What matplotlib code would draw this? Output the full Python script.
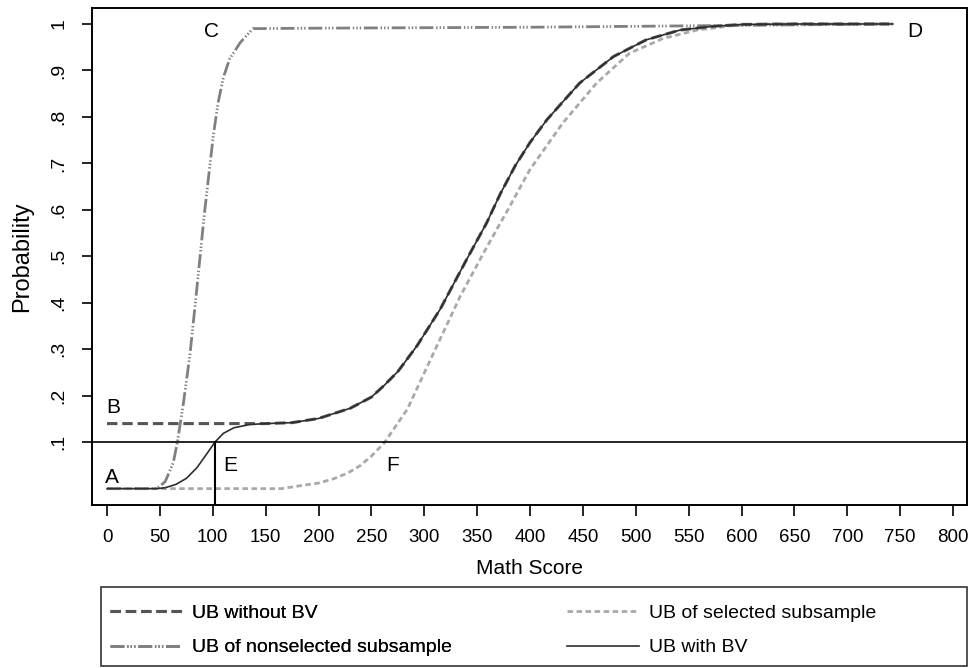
import matplotlib
matplotlib.use("Agg")
import matplotlib.pyplot as plt
from matplotlib.lines import Line2D
from matplotlib.patches import Rectangle

plt.rcParams['lines.scale_dashes'] = False

REG = ['Liberation Sans', 'DejaVu Sans']

# ---------------- data ----------------
# UB with BV (solid)
bv_x = [0, 47, 55, 65, 75, 85, 95, 102, 110, 120, 135, 150, 175, 200, 230, 250, 262,
        275, 293, 315, 340, 359, 372, 386, 400, 416, 432, 447, 479, 510, 542, 573, 600, 650, 743]
bv_y = [0.0, 0.0, 0.002, 0.009, 0.022, 0.045, 0.077, 0.10, 0.119, 0.131, 0.138, 0.140, 0.142,
        0.151, 0.173, 0.197, 0.222, 0.252, 0.307, 0.386, 0.493, 0.572, 0.635, 0.695, 0.745,
        0.794, 0.835, 0.873, 0.930, 0.966, 0.987, 0.995, 0.999, 1.0, 1.0]

# UB without BV (dark dashed)
nobv_x = [0, 150, 175, 200, 230, 250, 262, 275, 293, 315, 340, 359, 372, 386, 400, 416,
          432, 447, 479, 510, 542, 573, 600, 650, 743]
nobv_y = [0.14, 0.14, 0.142, 0.151, 0.173, 0.197, 0.222, 0.252, 0.307, 0.386, 0.493, 0.572,
          0.635, 0.695, 0.745, 0.794, 0.835, 0.873, 0.930, 0.966, 0.987, 0.995, 0.999, 1.0, 1.0]

# UB of selected subsample (light dashed)
sel_x = [0, 165, 182, 200, 214, 228, 239, 250, 262, 284, 309, 334, 356, 372, 379, 400, 431,
         463, 494, 526, 558, 590, 620, 743]
sel_y = [0.0, 0.0, 0.006, 0.012, 0.021, 0.034, 0.049, 0.07, 0.098, 0.171, 0.293, 0.414, 0.507,
         0.572, 0.600, 0.687, 0.787, 0.873, 0.937, 0.969, 0.987, 0.996, 1.0, 1.0]

# UB of nonselected subsample (dash-dot-dot)
non_x = [0, 47, 55, 62.7, 66.5, 72, 78.5, 84, 88, 92, 96, 100.5, 105, 110, 116, 126, 138,
         200, 400, 600, 743]
non_y = [0.0, 0.0, 0.015, 0.056, 0.10, 0.18, 0.29, 0.41, 0.50, 0.59, 0.67, 0.76, 0.83, 0.885,
         0.925, 0.96, 0.99, 0.991, 0.993, 0.997, 1.0]

threshold = 0.1
e_x = 102

labels = ['A', 'B', 'C', 'D', 'E', 'F']
label_x = [5, 6, 99, 764, 117, 270]
label_y = [0.025, 0.175, 0.983, 0.983, 0.05, 0.05]

xticks = list(range(0, 801, 50))
yticks = [0.1, 0.2, 0.3, 0.4, 0.5, 0.6, 0.7, 0.8, 0.9, 1.0]
ytick_labels = ['.1', '.2', '.3', '.4', '.5', '.6', '.7', '.8', '.9', '1']

series_names = ['UB without BV', 'UB of nonselected subsample',
                'UB of selected subsample', 'UB with BV']

# ---------------- styles ----------------
st_nobv = dict(color='#555555', lw=2.2, dashes=(7.5, 3.5))
st_non = dict(color='#808080', lw=2.0, dashes=(10, 2, 1, 1.5, 1, 1.5, 1, 2))
st_sel = dict(color='#a9a9a9', lw=2.0, dashes=(4, 2.5))
st_bv = dict(color='#2e2e2e', lw=1.2, ls='-')

W, H = 969, 668
fig = plt.figure(figsize=(W / 100, H / 100), dpi=100)
L, R, T, B = 92, 967, 8, 505
ax = fig.add_axes([L / W, 1 - B / H, (R - L) / W, (B - T) / H])

ax.plot(sel_x, sel_y, **st_sel)
ax.plot(non_x, non_y, **st_non)
ax.plot(nobv_x, nobv_y, **st_nobv)
ax.plot(bv_x, bv_y, **st_bv)

ax.axhline(threshold, color='black', lw=1.2)
ax.plot([e_x, e_x], [-0.05, threshold], color='black', lw=1.5)

for t, lx, ly in zip(labels, label_x, label_y):
    ax.text(lx, ly, t, fontsize=15, family=REG, ha='center', va='center', color='black')

ax.set_xlim(-14.2, 813.2)
ax.set_ylim(-0.0352, 1.0344)
ax.set_xticks(xticks)
ax.set_xticklabels([str(v) for v in xticks], family=REG, fontsize=13.5)
ax.set_yticks(yticks)
ax.set_yticklabels(ytick_labels, family=REG, fontsize=14, rotation=90, va='center', ha='right')
ax.tick_params(axis='x', length=8, width=1.2, pad=9, color='black')
ax.tick_params(axis='y', length=7.5, width=1.2, pad=10, color='black')
for s in ax.spines.values():
    s.set_linewidth(1.4)
    s.set_color('black')

ax.set_xlabel('Math Score', family=REG, fontsize=15)
ax.xaxis.set_label_coords(0.5, (B - 569) / (B - T))
ax.xaxis.label.set_va('center')
ax.set_ylabel('Probability', family=REG, fontsize=17)
ax.yaxis.set_label_coords((22 - L) / (R - L), 0.5)
ax.yaxis.label.set_va('center')

# ---------------- legend ----------------
fig.add_artist(Rectangle((101 / W, 1 - 666 / H), (967 - 101) / W, (666 - 587) / H,
                         transform=fig.transFigure, fill=False, ec='#333333', lw=1.2))

def handle(st):
    return Line2D([], [], **st)

common = dict(frameon=False, prop={'family': REG, 'size': 14},
              handlelength=3.7, handletextpad=0.5, labelspacing=0.88,
              borderpad=0, borderaxespad=0, loc='upper left',
              bbox_transform=fig.transFigure)
leg1 = fig.legend([handle(st_nobv), handle(st_non)], series_names[:2],
                  bbox_to_anchor=(110 / W, 1 - 604 / H), **common)
fig.add_artist(leg1)
leg2 = fig.legend([handle(st_sel), handle(st_bv)], series_names[2:],
                  bbox_to_anchor=(567 / W, 1 - 604 / H), **common)

fig.savefig('out.png', dpi=100)
